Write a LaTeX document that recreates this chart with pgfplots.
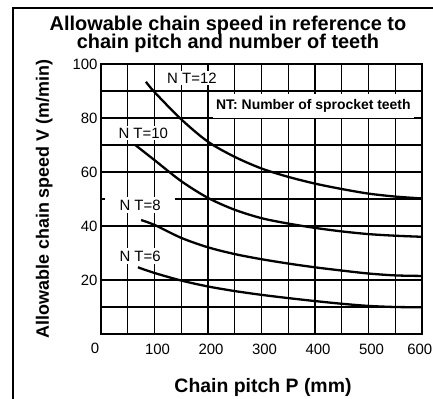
\documentclass[border=0pt]{standalone}
\usepackage{pgfplots}
\pgfplotsset{compat=1.18}
\usepackage{fontspec}
\setmainfont{Liberation Sans}
\begin{document}
\begin{tikzpicture}
\begin{axis}[
  at={(0,0)}, anchor=south west,
  scale only axis, width=321bp, height=270bp,
  xmin=0, xmax=600, ymin=0, ymax=100,
  xtick={0,50,...,600},
  xticklabels={,,100,,200,,300,,400,,500,,},
  ytick={0,10,20,40,50,60,70,80,90,100},
  yticklabels={,,20,40,,60,,80,,100},
  grid=major,
  major grid style={black, line width=1.2bp},
  axis line style={black, line width=1.6bp},
  major tick length=0pt,
  tick label style={font=\fontsize{15}{15}\selectfont},
  xticklabel style={anchor=base, yshift=-20bp, xshift=3bp},
  /pgf/number format/assume math mode=true,
  clip=false,
]
\node[fill=white, inner xsep=2bp, inner ysep=2bp, font=\fontsize{15}{15}\selectfont] at (axis cs:170,94.8) {N T=12};
\node[fill=white, inner xsep=2bp, inner ysep=2bp, font=\fontsize{15}{15}\selectfont] at (axis cs:79,74.4) {N T=10};
\node[fill=white, inner xsep=14bp, inner ysep=3bp, font=\fontsize{15}{15}\selectfont] at (axis cs:73,47.8) {N T=8};
\node[fill=white, inner xsep=3bp, inner ysep=3bp, font=\fontsize{15}{15}\selectfont] at (axis cs:73,28.9) {N T=6};
\node[fill=white, inner xsep=3bp, minimum height=24bp, font=\bfseries\fontsize{14}{14}\selectfont] at (axis cs:397,84.6) {NT: Number of sprocket teeth};
\addplot[black, line width=2.3bp, smooth] coordinates {(84,93.4) (100,89.6) (150,79.5) (200,71.2) (250,65.6) (300,61.3) (350,58.2) (400,55.7) (450,53.7) (500,52.0) (550,50.9) (600,50.2)};
\addplot[black, line width=2.3bp, smooth] coordinates {(64,70) (100,64.4) (150,56.6) (200,50.4) (250,46.0) (300,42.9) (350,40.9) (400,39.3) (450,38.0) (500,37.0) (550,36.4) (600,36.0)};
\addplot[black, line width=2.3bp, smooth] coordinates {(75,42.2) (100,40.4) (150,35.6) (200,32.1) (250,29.6) (300,27.7) (350,26.1) (400,24.7) (450,23.5) (500,22.4) (550,21.7) (600,21.5)};
\addplot[black, line width=2.3bp, smooth] coordinates {(69,24.7) (100,22.6) (150,19.8) (200,17.6) (250,15.9) (300,14.5) (350,13.3) (400,12.2) (450,11.2) (500,10.4) (550,10.0) (600,9.9)};
\end{axis}
\node[font=\fontsize{15}{15}\selectfont] at (-6bp,-14bp) {0};
\node[anchor=base east, inner sep=0pt, font=\fontsize{15}{15}\selectfont] at (331.5bp,-20bp) {600};
\node[anchor=base, font=\bfseries\fontsize{20}{20}\selectfont] at (127bp,303bp) {Allowable chain speed in reference to};
\node[anchor=base, font=\bfseries\fontsize{20}{20}\selectfont] at (127bp,285bp) {chain pitch and number of teeth};
\node[anchor=base, font=\bfseries\fontsize{19.5}{19.5}\selectfont] at (162bp,-58bp) {Chain pitch P (mm)};
\node[anchor=base, rotate=90, font=\bfseries\fontsize{18}{18}\selectfont] at (-52bp,135bp) {Allowable chain speed V (m/min)};
\draw[line width=2bp] (-88bp,-80bp) -- (-88bp,326bp) -- (345bp,326bp);
\pgfresetboundingbox
\useasboundingbox (-101bp,-65bp) rectangle (332bp,334bp);
\end{tikzpicture}
\end{document}
